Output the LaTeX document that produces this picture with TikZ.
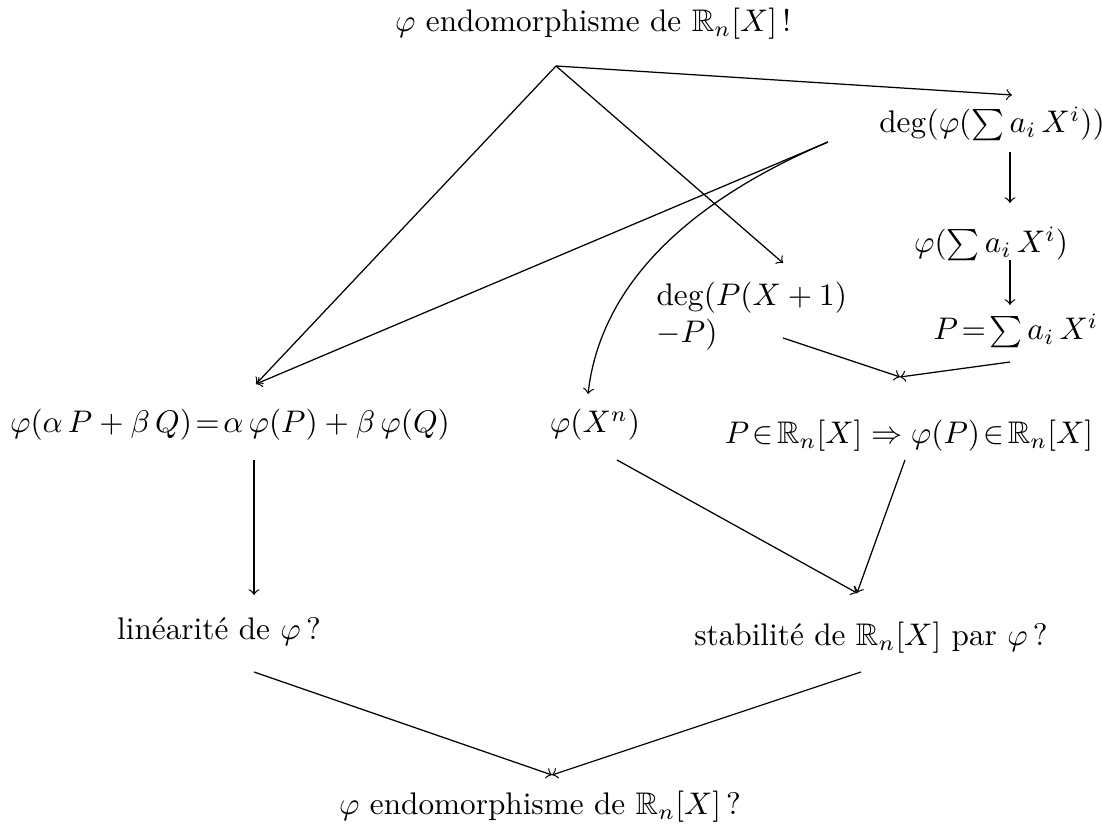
\documentclass[tikz,border=0pt]{standalone}
\usepackage{amssymb}
\usetikzlibrary{calc}

\begin{document}
\begin{tikzpicture}[
        x=0.32pt, y=-0.32pt,
        >=to,
        stmt/.style={inner sep=0pt, font=\normalsize},
        line/.style={draw=black, ->}
    ]
    \useasboundingbox (0,0) rectangle (1102,830);

    % statements
    \node[stmt] (given) at (593,24) {$\varphi$ endomorphisme de $\mathbb{R}_n[X]$\,!};
    \node[stmt] (degphi) at (992,124) {$\deg(\varphi(\sum a_i\,X^i))$};
    \node[stmt] (phisum) at (991,244) {$\varphi(\sum a_i\,X^i)$};
    \node[stmt] (psum) at (1016,331) {$P\!=\!\sum a_i\,X^i$};
    \node[stmt, align=left, anchor=west] (degp) at (656,316) {$\deg(P(X+1)$\\$-P)$};
    \node[stmt] (lin) at (230,425) {$\varphi(\alpha\,P+\beta\,Q)\!=\!\alpha\,\varphi(P)+\beta\,\varphi(Q)$};
    \node[stmt] (phixn) at (595,425) {$\varphi(X^n)$};
    \node[stmt] (stab) at (909,436) {$P\!\in\!\mathbb{R}_n[X]\Rightarrow\varphi(P)\!\in\!\mathbb{R}_n[X]$};
    \node[stmt] (linq) at (219,632) {linéarité de $\varphi$\,?};
    \node[stmt] (stabq) at (871,638) {stabilité de $\mathbb{R}_n[X]$ par $\varphi$\,?};
    \node[stmt] (goalq) at (540,807) {$\varphi$ endomorphisme de $\mathbb{R}_n[X]$\,?};

    % connector ends
    \coordinate (given-out) at (556,66);
    \coordinate (degphi-in) at (1012,95);
    \coordinate (degphi-out) at (828,142);
    \coordinate (degphi-down) at (1010,152);
    \coordinate (phisum-in) at (1010,203);
    \coordinate (phisum-out) at (1010,260);
    \coordinate (psum-in) at (1010,305);
    \coordinate (degp-in) at (783,263);
    \coordinate (degp-out) at (783,338);
    \coordinate (lin-in) at (256,384);
    \coordinate (lin-out) at (254,460);
    \coordinate (phixn-in) at (588,394);
    \coordinate (phixn-out) at (617,460);
    \coordinate (stab-in) at (900,377);
    \coordinate (stab-out) at (905,460);
    \coordinate (psum-out) at (1010,362);
    \coordinate (linq-in) at (254,595);
    \coordinate (linq-out) at (254,672);
    \coordinate (stabq-in) at (857,593);
    \coordinate (stabq-out) at (861,672);
    \coordinate (goalq-in) at (552,775);

    \draw[line] (given-out) -- (degphi-in);
    \draw[line] (given-out) -- (degp-in);
    \draw[line] (given-out) -- (lin-in);
    \draw[line] (degphi-out) -- (lin-in);
    \draw[line] (degphi-out) .. controls (680,205) and (600,290) .. (phixn-in);
    \draw[line] (degphi-down) -- (phisum-in);
    \draw[line] (phisum-out) -- (psum-in);
    \draw[line] (degp-out) -- (stab-in);
    \draw[line] (psum-out) -- (stab-in);
    \draw[line] (lin-out) -- (linq-in);
    \draw[line] (phixn-out) -- (stabq-in);
    \draw[line] (stab-out) -- (stabq-in);
    \draw[line] (linq-out) -- (goalq-in);
    \draw[line] (stabq-out) -- (goalq-in);
\end{tikzpicture}
\end{document}
